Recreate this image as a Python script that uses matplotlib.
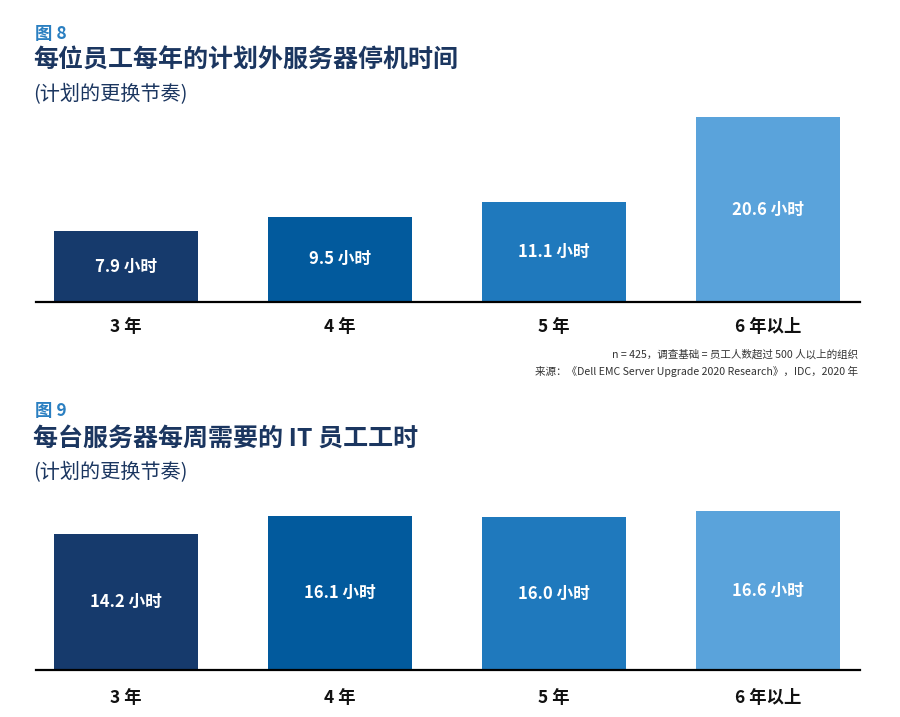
import matplotlib
matplotlib.use("Agg")
from matplotlib import pyplot as plt

plt.rcParams['font.family'] = ['Noto Sans CJK SC', 'DejaVu Sans']

# data
categories = ["3 年", "4 年", "5 年", "6 年以上"]
downtime_hours = [7.9, 9.5, 11.1, 20.6]
it_staff_hours = [14.2, 16.1, 16.0, 16.6]
bar_colors = ["#163a6c", "#025a9d", "#1f79bd", "#5aa3db"]

fig1_num = "图 8"
fig1_title = "每位员工每年的计划外服务器停机时间"
fig2_num = "图 9"
fig2_title = "每台服务器每周需要的 IT 员工工时"
subtitle = "(计划的更换节奏)"
note_lines = ["n = 425，调查基础 = 员工人数超过 500 人以上的组织",
              "来源：《Dell EMC Server Upgrade 2020 Research》，IDC，2020 年"]

W, H = 900, 717
TITLE_COLOR = "#1b3660"
NUM_COLOR = "#2a7fc1"


def px_axes(fig, left, right, baseline, top):
    # axes from pixel coords (origin at top-left)
    return fig.add_axes([left / W, (H - baseline) / H, (right - left) / W, (baseline - top) / H])


def draw_bars(ax, values, ymax, label_y):
    x = list(range(len(values)))
    ax.bar(x, values, width=0.67, color=bar_colors, zorder=2)
    ax.set_xlim(-0.42, 3.43)
    ax.set_ylim(0, ymax)
    for xi, v in zip(x, values):
        ax.text(xi, v / 2, f"{v:.1f} 小时", ha="center", va="center",
                color="white", fontsize=12, fontweight="bold")
    for s in ["top", "right", "left"]:
        ax.spines[s].set_visible(False)
    ax.spines["bottom"].set_linewidth(1.6)
    ax.spines["bottom"].set_color("black")
    ax.spines["bottom"].set_zorder(3)
    ax.set_yticks([])
    ax.set_xticks([])
    for xi, c in zip(x, categories):
        ax.text(xi, label_y, c, ha="center", va="center", fontsize=12.5,
                fontweight="bold", color="#111111", transform=ax.get_xaxis_transform())


fig = plt.figure(figsize=(W / 100, H / 100), dpi=100)


def fig_text(x, y, s, **kw):
    fig.text(x / W, 1 - y / H, s, **kw)


# figure 8
fig_text(35, 34, fig1_num, fontsize=12.5, fontweight="bold", color=NUM_COLOR, va="center")
fig_text(33, 61, fig1_title, fontsize=18, fontweight="bold", color=TITLE_COLOR, va="center")
fig_text(33, 95, subtitle, fontsize=14.5, color=TITLE_COLOR, va="center")

scale1 = 185 / 20.6
ymax1 = (302 - 105) / scale1
ax1 = px_axes(fig, 36, 860, 302, 105)
draw_bars(ax1, downtime_hours, ymax1, -25 / (302 - 105))

fig_text(858, 355, note_lines[0], fontsize=7.6, color="#333333", ha="right", va="center")
fig_text(858, 371, note_lines[1], fontsize=7.6, color="#333333", ha="right", va="center")

# figure 9
fig_text(35, 411, fig2_num, fontsize=12.5, fontweight="bold", color=NUM_COLOR, va="center")
fig_text(33, 439, fig2_title, fontsize=18, fontweight="bold", color=TITLE_COLOR, va="center")
fig_text(33, 473, subtitle, fontsize=14.5, color=TITLE_COLOR, va="center")

scale2 = 9.55
ymax2 = (670 - 500) / scale2
ax2 = px_axes(fig, 36, 860, 670, 500)
draw_bars(ax2, it_staff_hours, ymax2, -28 / (670 - 500))

fig.savefig("out.png", dpi=100)
